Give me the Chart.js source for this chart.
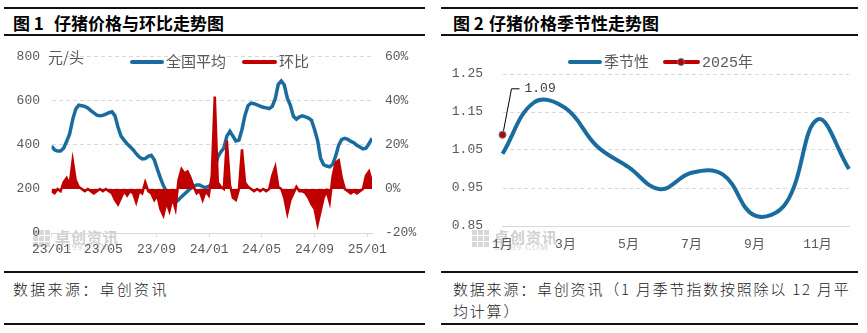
<!DOCTYPE html>
<html lang="zh-CN">
<head>
<meta charset="utf-8">
<title>仔猪价格走势</title>
<script src="https://cdn.jsdelivr.net/npm/chart.js@4.4.1/dist/chart.umd.min.js"></script>
<style>
  html, body { margin: 0; padding: 0; background: #fff; }
  body { width: 867px; height: 333px; position: relative; overflow: hidden; font-family: "Noto Sans CJK SC", sans-serif; }
  .rule { position: absolute; height: 1.5px; background: #111; }
  .title { position: absolute; top: 13px; font-size: 17px; font-weight: 700; color: #000; line-height: 20px; white-space: nowrap; }
  .source { position: absolute; top: 278px; font-size: 15px; font-weight: 300; color: #222; letter-spacing: 2.3px; line-height: 22px; white-space: nowrap; }
  .legend { position: absolute; font-size: 15px; color: #595959; line-height: 18px; white-space: nowrap; }
  .legend.num { font-family: "Liberation Mono", "Noto Sans CJK SC", monospace; }
  .swatch { position: absolute; height: 4px; border-radius: 2px; }
  .dot { position: absolute; width: 6px; height: 6px; border-radius: 50%; background: #c00000; border: 1px solid #5a7a99; }
  canvas { position: absolute; top: 36px; }
  .wm { position: absolute; color: #d0d0d0; white-space: nowrap; }
  .wm .logo { position: absolute; left: 0; top: 2px; display: grid; grid-template-columns: repeat(3, 5px); gap: 1px; }
  .wm .logo i { width: 5px; height: 5px; background: #d8d8d8; }
  .wm .name { position: absolute; left: 22px; top: -2px; font-size: 15px; font-weight: 700; letter-spacing: 1px; }
  .wm .site { position: absolute; left: 22px; top: 14px; font-size: 9px; font-family: "Liberation Serif", serif; letter-spacing: 1px; }
</style>
</head>
<body>

<div class="rule" style="left:4px; width:421px; top:7px;"></div>
<div class="rule" style="left:4px; width:421px; top:34px;"></div>
<div class="rule" style="left:441px; width:417px; top:7px;"></div>
<div class="rule" style="left:441px; width:417px; top:34px;"></div>
<div class="title" style="left:13px;">图 1<span style="margin-left:10px;">仔猪价格与环比走势图</span></div>
<div class="title" style="left:453px;">图 2<span style="margin-left:5px;">仔猪价格季节性走势图</span></div>

<div class="wm" style="left:33px; top:228px;">
  <div class="logo"><i></i><i></i><i></i><i></i><i></i><i></i><i></i><i></i><i></i></div>
  <div class="name">卓创资讯</div><div class="site">SCI99.COM</div>
</div>
<div class="wm" style="left:472px; top:228px;">
  <div class="logo"><i></i><i></i><i></i><i></i><i></i><i></i><i></i><i></i><i></i></div>
  <div class="name">卓创资讯</div><div class="site">SCI99.COM</div>
</div>

<canvas id="priceChart" width="430" height="232" style="left:0;"></canvas>
<canvas id="seasonChart" width="437" height="232" style="left:430px;"></canvas>

<div class="legend" style="left:48px; top:48px;">元/头</div>
<div class="swatch" style="left:130px; width:34px; top:60px; background:#1b6c9e;"></div>
<div class="legend" style="left:166px; top:52px;">全国平均</div>
<div class="swatch" style="left:242px; width:35px; top:60px; background:#c00000;"></div>
<div class="legend" style="left:279px; top:52px;">环比</div>

<div class="swatch" style="left:568px; width:34px; top:60px; background:#1b6c9e;"></div>
<div class="legend" style="left:604px; top:52px;">季节性</div>
<div class="swatch" style="left:663px; width:37px; top:60px; background:#c00000;"></div>
<div class="dot" style="left:677px; top:58px;"></div>
<div class="legend num" style="left:702px; top:52px;">2025<span style="font-family:'Noto Sans CJK SC';">年</span></div>

<div class="rule" style="left:4px; width:421px; top:271px;"></div>
<div class="rule" style="left:4px; width:421px; top:323px;"></div>
<div class="rule" style="left:441px; width:417px; top:271px;"></div>
<div class="rule" style="left:441px; width:417px; top:323px;"></div>
<div class="source" style="left:13px;">数据来源：卓创资讯</div>
<div class="source" style="left:453px; letter-spacing:1.8px;">数据来源：卓创资讯（1 月季节指数按照除以 12 月平<br>均计算）</div>

<script>
// 图1：仔猪全国均价（元/头）与环比（%），周度数据
const weekStart = "2023-01-01";
const tickDates = ["2023-01-01", "2023-05-01", "2023-09-01", "2024-01-01", "2024-05-01", "2024-09-01", "2025-01-01"];
const tickLabels = ["23/01", "23/05", "23/09", "24/01", "24/05", "24/09", "25/01"];

const priceAvg = [
  394, 378, 372, 372, 385, 415, 450, 515, 562, 580,
  578, 575, 568, 556, 545, 535, 532, 534, 540, 546,
  550, 532, 480, 440, 422, 405, 392, 378, 360, 345,
  336, 338, 348, 353, 332, 290, 250, 215, 188, 160,
  142, 140, 150, 165, 177, 190, 202, 212, 218, 218,
  210, 206, 212, 222, 290, 345, 368, 385, 440, 462,
  440, 418, 422, 470, 535, 578, 590, 587, 582, 576,
  571, 568, 565, 575, 610, 675, 690, 672, 612, 580,
  530, 517, 527, 532, 527, 522, 512, 470, 420, 340,
  310, 304, 300, 312, 350, 400, 425, 430, 425, 416,
  410, 398, 390, 382, 385, 405, 430
];

const priceChg = [
  -1, -2, 0, -1, 3, 5, 2, 13, 4, 1,
  0, -1, 0, -1, -2, -1, 0, -1, 0, -1,
  -2, -5, -7, -4, -1, -3, -1, -2, -6, -1,
  -2, 3, -1, -2, -5, -3, -9, -12, -6, -10,
  -4, -9, 4, 9, 7, 8, 5, 1, -2, -1,
  -5, -1, -3, 6, 42, 3, 1, 0, 22, 2,
  -4, -5, 0, 18, 3, 1, 0, -1, 0, -1,
  0, -1, 0, 6, 10, 1, 0, -4, -11, -5,
  -2, 1, -1, -1, -2, -4, -7, -9, -16, -10,
  -4, -1, -6, 6, 12, 13, 5, 0, -1, -2,
  -1, -2, -1, 0, 6, 8, 3
];

// 图2：季节性指数与2025年1月
const months = ["1月", "2月", "3月", "4月", "5月", "6月", "7月", "8月", "9月", "10月", "11月", "12月"];
const seasonal = [1.04, 1.175, 1.16, 1.06, 1.005, 0.947, 0.99, 0.985, 0.878, 0.91, 1.13, 1.0];
const year2025 = [1.09, null, null, null, null, null, null, null, null, null, null, null];

const BLUE = "#1b6c9e";
const RED = "#c00000";
const GRID = "#d9d9d9";
const TICK_FONT = { family: '"Liberation Mono", "Noto Sans CJK SC", monospace', size: 13 };

Chart.defaults.color = "#595959";
Chart.defaults.animation = false;

const dayOf = (s) => (Date.parse(s) - Date.parse(weekStart)) / 864e5;
const tickDays = tickDates.map(dayOf);
const lastDay = (priceAvg.length - 1) * 7;

new Chart(document.getElementById("priceChart"), {
  type: "line",
  data: {
    datasets: [
      {
        label: "全国平均",
        data: priceAvg.map((v, i) => ({ x: i * 7, y: v })),
        yAxisID: "y",
        borderColor: BLUE,
        borderWidth: 3.5,
        pointRadius: 0,
        tension: 0,
        order: 2,
      },
      {
        label: "环比",
        data: priceChg.map((v, i) => ({ x: i * 7, y: v })),
        yAxisID: "y1",
        borderColor: RED,
        backgroundColor: RED,
        borderWidth: 2.5,
        pointRadius: 0,
        tension: 0,
        fill: "origin",
        order: 1,
      },
    ],
  },
  options: {
    responsive: false,
    layout: { padding: { top: 12, right: 0, bottom: 0, left: 0 } },
    plugins: { legend: { display: false }, tooltip: { enabled: false } },
    scales: {
      x: {
        type: "linear",
        min: 0,
        max: lastDay,
        afterBuildTicks: (axis) => {
          axis.ticks = tickDays.map((d) => ({ value: d }));
        },
        afterFit: (axis) => { axis.height = 35; },
        ticks: {
          autoSkip: false,
          maxRotation: 0,
          padding: 5,
          font: TICK_FONT,
          callback: (value, index) => tickLabels[index],
        },
        grid: { drawOnChartArea: false, drawTicks: true, tickLength: 4, tickColor: GRID },
        border: { color: GRID, width: 1 },
      },
      y: {
        position: "left",
        min: 0,
        max: 800,
        ticks: { stepSize: 200, padding: 11.5, font: TICK_FONT },
        afterFit: (axis) => { axis.width = 51.5; },
        grid: {
          drawTicks: false,
          color: (ctx) => (ctx.index === 0 ? "rgba(0,0,0,0)" : GRID),
        },
        border: { display: false, dash: [4, 3] },
      },
      y1: {
        position: "right",
        min: -20,
        max: 60,
        ticks: { stepSize: 20, padding: 13, font: TICK_FONT, callback: (v) => v + "%" },
        afterFit: (axis) => { axis.width = 58; },
        grid: { drawOnChartArea: false, drawTicks: false },
        border: { display: false },
      },
    },
  },
});

// leader line and value label for the 2025 point
const leaderLabel = {
  id: "leaderLabel",
  afterDatasetsDraw(chart) {
    const pt = chart.getDatasetMeta(0).data[0];
    if (!pt) return;
    const ctx = chart.ctx;
    ctx.save();
    ctx.strokeStyle = "#000";
    ctx.lineWidth = 1;
    ctx.beginPath();
    ctx.moveTo(pt.x + 1, pt.y - 4);
    ctx.lineTo(pt.x + 9, pt.y - 46);
    ctx.lineTo(pt.x + 17, pt.y - 46);
    ctx.stroke();
    ctx.fillStyle = "#404040";
    ctx.font = '13px "Liberation Mono", monospace';
    ctx.textBaseline = "middle";
    ctx.fillText(year2025[0].toFixed(2), pt.x + 22, pt.y - 46);
    ctx.restore();
  },
};

new Chart(document.getElementById("seasonChart"), {
  type: "line",
  data: {
    labels: months,
    datasets: [
      {
        label: "2025年",
        data: year2025,
        borderColor: RED,
        backgroundColor: RED,
        showLine: false,
        pointRadius: 3.5,
        pointBackgroundColor: RED,
        pointBorderColor: "#5a7a99",
        pointBorderWidth: 1,
        order: 1,
      },
      {
        label: "季节性",
        data: seasonal,
        borderColor: BLUE,
        borderWidth: 4,
        pointRadius: 0,
        tension: 0.4,
        order: 2,
      },
    ],
  },
  options: {
    responsive: false,
    layout: { padding: { top: 38, right: 18, bottom: 0, left: 0 } },
    plugins: { legend: { display: false }, tooltip: { enabled: false } },
    scales: {
      x: {
        afterFit: (axis) => { axis.height = 42; },
        ticks: {
          autoSkip: false,
          maxRotation: 0,
          padding: 11,
          font: TICK_FONT,
          callback: (value, index) => (index % 2 === 0 ? months[index] : ""),
        },
        grid: { display: false, drawTicks: false },
        border: { color: GRID, width: 1 },
      },
      y: {
        min: 0.85,
        max: 1.25,
        ticks: { stepSize: 0.1, padding: 19.5, font: TICK_FONT, callback: (v) => v.toFixed(2) },
        afterFit: (axis) => { axis.width = 72.5; },
        grid: {
          drawTicks: false,
          color: (ctx) => (ctx.index === 0 ? "rgba(0,0,0,0)" : GRID),
        },
        border: { display: false, dash: [4, 3] },
      },
    },
  },
  plugins: [leaderLabel],
});
</script>
</body>
</html>
